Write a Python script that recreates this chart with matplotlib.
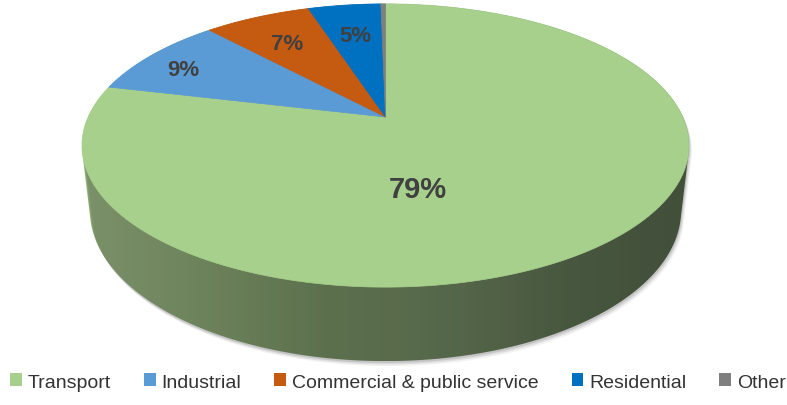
import numpy as np
import matplotlib.pyplot as plt
from matplotlib.patches import Polygon, Patch
from matplotlib.colors import LinearSegmentedColormap

# data
labels = ['Transport', 'Industrial', 'Commercial & public service', 'Residential', 'Other']
shares = [78.7, 9.4, 6.9, 4.7, 0.3]
top_colors = ['#a8d08d', '#5b9bd5', '#c55a11', '#0070c0', '#7f7f7f']
side_stops = ['#93b378', '#7c9d62', '#64824e', '#5a7549', '#465c39', '#3c5031']
label_xy = [(418, 190), (183, 71), (287, 44), (355, 37), None]

# camera for the 3d look (pixel space)
phi = np.radians(27.2)
D = 4.42
S = 297.3
CX, CY = 385.5, 118.0
H = 0.247


def proj(x, y, z):
    depth = D + y * np.cos(phi) - z * np.sin(phi)
    up = y * np.sin(phi) + z * np.cos(phi)
    return CX + S * D * x / depth, CY - S * D * up / depth


def hull(pts):
    pts = sorted(map(tuple, pts))
    def cross(o, a, b):
        return (a[0]-o[0])*(b[1]-o[1]) - (a[1]-o[1])*(b[0]-o[0])
    lower, upper = [], []
    for p in pts:
        while len(lower) >= 2 and cross(lower[-2], lower[-1], p) <= 0:
            lower.pop()
        lower.append(p)
    for p in reversed(pts):
        while len(upper) >= 2 and cross(upper[-2], upper[-1], p) <= 0:
            upper.pop()
        upper.append(p)
    return np.array(lower[:-1] + upper[:-1])


fig = plt.figure(figsize=(7.87, 4.06), dpi=100)
ax = fig.add_axes([0, 0, 1, 1])
ax.axis('off')

t = np.radians(np.linspace(0, 360, 721))
tx, ty = proj(np.cos(t), np.sin(t), 0)
bx, by = proj(np.cos(t), np.sin(t), -H)
hpts = hull(np.column_stack([np.r_[tx, bx], np.r_[ty, by]]))

# soft shadow under the disc
for dx, dy, a in [(3, 5, 0.07), (2, 3.5, 0.12), (1, 2, 0.18)]:
    ax.add_patch(Polygon(hpts + [dx, dy], closed=True, facecolor='#505050',
                         edgecolor='none', alpha=a))

# side wall with gradient
cmap = LinearSegmentedColormap.from_list('side', side_stops)
xmin, xmax = hpts[:, 0].min(), hpts[:, 0].max()
ymin, ymax = hpts[:, 1].min(), hpts[:, 1].max()
im = ax.imshow(np.linspace(0, 1, 256)[None, :], extent=(xmin, xmax, ymax, ymin),
               cmap=cmap, aspect='auto', interpolation='bilinear')
clip = Polygon(hpts, closed=True, transform=ax.transData)
im.set_clip_path(clip)

# top face slices, clockwise from 12 o'clock
fr = np.array(shares) / sum(shares)
bounds = 90 - 360 * np.concatenate([[0], np.cumsum(fr)])
for i in range(len(shares)):
    a = np.radians(np.linspace(bounds[i], bounds[i+1], 200))
    px, py = proj(np.cos(a), np.sin(a), 0)
    cx0, cy0 = proj(0.0, 0.0, 0)
    poly = np.column_stack([np.r_[cx0, px], np.r_[cy0, py]])
    ax.add_patch(Polygon(poly, closed=True, facecolor=top_colors[i],
                         edgecolor=top_colors[i], lw=0.5))

fam = ['Liberation Sans', 'DejaVu Sans']
for i, xy in enumerate(label_xy):
    if xy is None:
        continue
    ax.text(xy[0], xy[1], f"{shares[i]:.0f}%", ha='center', va='center',
            fontsize=21 if i == 0 else 16, fontweight='bold', color='#404040',
            family=fam)

ax.set_xlim(0, 787)
ax.set_ylim(406, 0)

handles = [Patch(facecolor=c, edgecolor='none') for c in top_colors]
ax.legend(handles, labels, loc='center', bbox_to_anchor=(398/787, 23/406), ncol=5,
          frameon=False, handlelength=0.6, handleheight=0.6, handletextpad=0.3,
          columnspacing=1.7, borderpad=0, prop={'family': fam, 'size': 14},
          labelcolor='#333333')

fig.savefig('out.png', dpi=100)
